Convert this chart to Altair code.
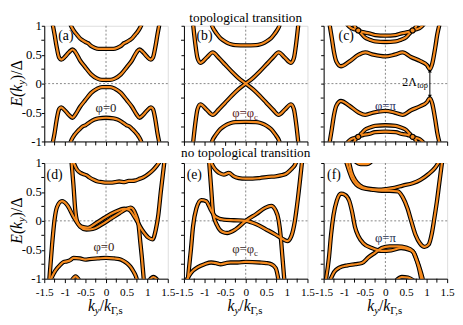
import altair as alt
import pandas as pd

FONT = "Liberation Serif, Times New Roman, serif"
ORANGE = "#f68b1f"
ZERO = "#666666"
W, H = 126, 118

X_MAJOR = [-1.5, -1.0, -0.5, 0.0, 0.5, 1.0, 1.5]
X_MINOR = [-1.25, -0.75, -0.25, 0.25, 0.75, 1.25]
Y_MAJOR = [-1.0, -0.5, 0.0, 0.5, 1.0]
Y_MINOR = [-0.75, -0.25, 0.25, 0.75]

# ---------------- panel (a) : phi = 0, gapped ----------------
a_in_k = [-1.30, -1.25, -1.20, -1.14, -1.09, -0.99, -0.89, -0.81, -0.75, -0.63, -0.51, -0.36, -0.22, -0.10, 0.0,
          0.10, 0.22, 0.36, 0.51, 0.63, 0.75, 0.81, 0.89, 0.99, 1.09, 1.14, 1.20, 1.25, 1.30]
a_up_in_E = [1.04, 0.85, 0.64, 0.45, 0.415, 0.47, 0.55, 0.59, 0.55, 0.40, 0.29, 0.16, 0.09, 0.065, 0.065,
             0.065, 0.09, 0.16, 0.29, 0.40, 0.55, 0.59, 0.55, 0.47, 0.415, 0.45, 0.64, 0.85, 1.04]
a_lo_in_E = [-1.04, -0.86, -0.63, -0.44, -0.41, -0.47, -0.55, -0.59, -0.54, -0.40, -0.29, -0.16, -0.09, -0.06, -0.06,
             -0.06, -0.09, -0.16, -0.29, -0.40, -0.54, -0.59, -0.55, -0.47, -0.41, -0.44, -0.63, -0.86, -1.04]
a_out_k = [-0.88, -0.83, -0.77, -0.70, -0.63, -0.57, -0.50, -0.44, -0.38, -0.28, -0.18, 0.0,
           0.18, 0.28, 0.38, 0.44, 0.50, 0.57, 0.63, 0.70, 0.77, 0.83, 0.88]
a_up_out_E = [1.05, 0.97, 0.90, 0.84, 0.78, 0.75, 0.72, 0.70, 0.66, 0.62, 0.60, 0.60,
              0.60, 0.62, 0.66, 0.70, 0.72, 0.75, 0.78, 0.84, 0.90, 0.97, 1.05]
a_lo_out_E = [-1.05, -0.96, -0.89, -0.83, -0.78, -0.74, -0.72, -0.69, -0.66, -0.62, -0.60, -0.59,
              -0.60, -0.62, -0.66, -0.69, -0.72, -0.74, -0.78, -0.83, -0.89, -0.96, -1.05]

# ---------------- panel (b) : phi = phi_c, gap closes ----------------
b_x_k = [-1.28, -1.23, -1.17, -1.10, -0.95, -0.80, -0.66, -0.50, -0.34, -0.18, 0.0,
         0.18, 0.34, 0.50, 0.66, 0.80, 0.95, 1.10, 1.17, 1.23, 1.28]
b_x1_E = [1.04, 0.72, 0.44, 0.36, 0.45, 0.54, 0.45, 0.33, 0.21, 0.10, 0.0,
          -0.10, -0.21, -0.33, -0.45, -0.54, -0.45, -0.36, -0.44, -0.72, -1.04]
b_x2_E = [-1.04, -0.72, -0.44, -0.36, -0.45, -0.54, -0.45, -0.33, -0.21, -0.10, 0.0,
          0.10, 0.21, 0.33, 0.45, 0.54, 0.45, 0.36, 0.44, 0.72, 1.04]
b_out_k = [-0.84, -0.80, -0.75, -0.69, -0.62, -0.55, -0.46, -0.36, -0.25, 0.0,
           0.25, 0.36, 0.46, 0.55, 0.62, 0.69, 0.75, 0.80, 0.84]
b_up_out_E = [1.05, 0.97, 0.91, 0.85, 0.79, 0.75, 0.71, 0.68, 0.665, 0.66,
              0.665, 0.68, 0.71, 0.75, 0.79, 0.85, 0.91, 0.97, 1.05]
b_lo_out_E = [-1.05, -0.97, -0.91, -0.85, -0.79, -0.75, -0.71, -0.68, -0.665, -0.66,
              -0.665, -0.68, -0.71, -0.75, -0.79, -0.85, -0.91, -0.97, -1.05]

# ---------------- panel (c) : phi = pi, reopened gap ----------------
c_in_k = [-1.36, -1.30, -1.25, -1.19, -1.08, -0.88, -0.65, -0.49, -0.29, 0.0,
          0.22, 0.42, 0.62, 0.85, 1.01, 1.08, 1.14, 1.21, 1.26, 1.32]
c_up_in_E = [1.04, 0.78, 0.55, 0.38, 0.30, 0.38, 0.50, 0.54, 0.50, 0.47,
             0.50, 0.54, 0.46, 0.39, 0.32, 0.25, 0.35, 0.62, 0.85, 1.04]
c_lo_in_E = [-1.04, -0.78, -0.55, -0.38, -0.30, -0.38, -0.50, -0.54, -0.50, -0.47,
             -0.50, -0.54, -0.46, -0.39, -0.32, -0.25, -0.35, -0.62, -0.85, -1.04]
c_outA_k = [-0.78, -0.72, -0.66, -0.55, -0.40, -0.25, 0.0, 0.25, 0.40, 0.55, 0.66, 0.72, 0.78]
c_up_outA_E = [1.04, 0.96, 0.92, 0.89, 0.87, 0.84, 0.83, 0.84, 0.87, 0.89, 0.92, 0.96, 1.04]
c_lo_outA_E = [-1.04, -0.96, -0.92, -0.89, -0.87, -0.84, -0.83, -0.84, -0.87, -0.89, -0.92, -0.96, -1.04]
c_outB_k = [-0.95, -0.85, -0.75, -0.66, -0.58, -0.50, -0.38, -0.25, 0.0,
            0.25, 0.38, 0.50, 0.58, 0.66, 0.75, 0.85, 0.95]
c_up_outB_E = [1.04, 0.97, 0.94, 0.92, 0.86, 0.80, 0.76, 0.73, 0.72,
               0.73, 0.76, 0.80, 0.86, 0.92, 0.94, 0.97, 1.04]
c_lo_outB_E = [-1.04, -0.97, -0.94, -0.92, -0.86, -0.80, -0.76, -0.73, -0.72,
               -0.73, -0.76, -0.80, -0.86, -0.92, -0.94, -0.97, -1.04]
c_dot_k = [-0.66, 0.66, -0.66, 0.66]
c_dot_E = [0.92, 0.92, -0.92, -0.92]
c_gap_k = [1.08]
c_gap_top = [0.22]
c_gap_bot = [-0.22]

# ---------------- panel (d) : phi = 0, no transition ----------------
d_up_k = [-0.80, -0.71, -0.62, -0.56, -0.48, -0.40, -0.30, -0.20, -0.10, 0.0, 0.12, 0.22,
          0.32, 0.45, 0.55, 0.63, 0.72, 0.79, 0.90, 1.03, 1.13, 1.23, 1.31]
d_up_E = [1.03, 0.89, 0.83, 0.81, 0.79, 0.75, 0.71, 0.68, 0.67, 0.66, 0.66, 0.67,
          0.68, 0.67, 0.69, 0.69, 0.70, 0.72, 0.75, 0.81, 0.87, 0.95, 1.03]
d_P_k = [-1.38, -1.31, -1.25, -1.19, -1.07, -0.94, -0.79, -0.63, -0.48, -0.32, -0.12, 0.08,
         0.32, 0.48, 0.60, 0.71, 0.79, 0.83, 0.87, 0.92]
d_P_E = [-1.04, -0.41, 0.02, 0.24, 0.34, 0.27, 0.07, -0.10, -0.15, -0.14, -0.07, 0.02,
         0.13, 0.20, 0.23, 0.13, -0.07, -0.35, -0.63, -1.04]
d_Q_k = [-0.84, -0.79, -0.75, -0.70, -0.60, -0.44, -0.24, 0.0, 0.24, 0.44, 0.56, 0.71,
         0.87, 1.03, 1.13, 1.21, 1.27, 1.33, 1.42]
d_Q_E = [1.04, 0.61, 0.21, -0.01, -0.10, -0.12, -0.04, 0.07, 0.16, 0.21, 0.19, 0.05,
         -0.15, -0.29, -0.32, -0.15, 0.10, 0.50, 1.04]
d_lo_k = [-1.36, -1.23, -1.11, -1.03, -0.95, -0.87, -0.79, -0.63, -0.50, -0.40, -0.20, 0.0,
          0.20, 0.32, 0.42, 0.52, 0.60, 0.67, 0.72, 0.76]
d_lo_E = [-1.04, -0.86, -0.76, -0.71, -0.70, -0.68, -0.64, -0.65, -0.67, -0.66, -0.65, -0.64,
          -0.65, -0.66, -0.69, -0.74, -0.80, -0.88, -0.95, -1.04]
d_bit1_k = [-0.84, -0.74, -0.64]
d_bit1_E = [-1.04, -0.96, -1.04]
d_bit2_k = [1.04, 1.15, 1.27]
d_bit2_E = [-1.04, -0.97, -1.04]

# ---------------- panel (e) : phi = phi_c, no transition ----------------
e_up_k = [-0.86, -0.78, -0.70, -0.62, -0.53, -0.41, -0.29, -0.17, 0.0, 0.17, 0.34, 0.55,
          0.73, 0.88, 0.97, 1.06, 1.13, 1.19, 1.24]
e_up_E = [1.04, 0.93, 0.86, 0.82, 0.80, 0.83, 0.77, 0.74, 0.73, 0.73, 0.74, 0.76,
          0.77, 0.79, 0.81, 0.86, 0.91, 0.96, 1.04]
e_P_k = [-1.41, -1.33, -1.28, -1.20, -1.08, -0.96, -0.84, -0.73, -0.53, -0.29, 0.0, 0.26,
         0.50, 0.73, 0.89, 1.01, 1.11, 1.19, 1.27, 1.37]
e_P_E = [-1.04, -0.49, -0.10, 0.21, 0.36, 0.34, 0.18, 0.07, 0.02, 0.01, 0.0, -0.06,
         -0.15, -0.24, -0.31, -0.35, -0.26, -0.02, 0.40, 1.04]
e_Q_k = [-0.89, -0.84, -0.79, -0.70, -0.57, -0.45, -0.25, 0.0, 0.26, 0.46, 0.62, 0.72,
         0.80, 0.85, 0.89, 0.94]
e_Q_E = [1.04, 0.57, 0.12, -0.07, -0.19, -0.21, -0.15, 0.0, 0.12, 0.22, 0.26, 0.19,
         0.01, -0.27, -0.61, -1.04]
e_lo_k = [-1.45, -1.32, -1.16, -1.00, -0.84, -0.72, -0.61, -0.48, -0.37, -0.20, 0.0, 0.34,
          0.50, 0.62, 0.73, 0.80]
e_lo_E = [-1.04, -0.89, -0.80, -0.75, -0.72, -0.73, -0.75, -0.73, -0.72, -0.72, -0.71, -0.72,
          -0.73, -0.75, -0.82, -1.04]

# ---------------- panel (f) : phi = pi, no transition ----------------
f_H_k = [-1.45, -1.37, -1.32, -1.26, -1.18, -1.08, -0.98, -0.88, -0.81, -0.74, -0.66, -0.53,
         -0.33, -0.09, 0.14, 0.38, 0.58, 0.69, 0.77, 0.85, 0.92]
f_H_E = [-1.04, -0.63, -0.24, 0.10, 0.35, 0.47, 0.45, 0.35, 0.16, -0.10, -0.26, -0.39,
         -0.47, -0.52, -0.51, -0.47, -0.50, -0.55, -0.69, -0.86, -1.04]
f_L_k = [-1.35, -1.24, -1.12, -0.92, -0.73, -0.57, -0.41, -0.25, -0.09, 0.10, 0.30, 0.50,
         0.66, 0.73, 0.81, 0.88]
f_L_E = [-1.04, -0.88, -0.81, -0.77, -0.75, -0.73, -0.63, -0.55, -0.47, -0.44, -0.44, -0.46,
         -0.52, -0.63, -0.80, -1.04]
f_U1_k = [-0.96, -0.88, -0.81, -0.71, -0.57, -0.33, -0.09, 0.10, 0.30, 0.42, 0.54, 0.63,
          0.73, 0.84, 0.95, 1.05, 1.13, 1.19, 1.25, 1.31, 1.38]
f_U1_E = [1.04, 0.86, 0.73, 0.63, 0.57, 0.54, 0.52, 0.52, 0.51, 0.41, 0.21, -0.01,
          -0.24, -0.39, -0.45, -0.41, -0.21, 0.05, 0.33, 0.66, 1.04]
f_U2_k = [-0.89, -0.82, -0.74, -0.63, -0.45, -0.17, 0.02, 0.22, 0.42, 0.66, 0.85, 1.05, 1.21, 1.32]
f_U2_E = [1.04, 0.83, 0.71, 0.62, 0.56, 0.54, 0.55, 0.57, 0.61, 0.65, 0.71, 0.81, 0.92, 1.04]
f_top_k = [-0.75, -0.60, -0.45, -0.32]
f_top_E = [1.04, 0.98, 0.98, 1.04]
f_bot_k = [0.25, 0.40, 0.55, 0.70]
f_bot_E = [-1.04, -0.97, -0.98, -1.04]

# phase labels (k, E, text, subscript, colour)
phi_labels = {
    "a": (0.0, -0.43, "φ=0", "", "#1a1a1a"),
    "b": (0.0, -0.51, "φ=φ", "c", "#5c1c1c"),
    "c": (0.0, -0.38, "φ=π", "", "#1f2f5f"),
    "d": (-0.05, -0.46, "φ=0", "", "#3b1a10"),
    "e": (0.0, -0.49, "φ=φ", "c", "#3a2a2a"),
    "f": (0.0, -0.29, "φ=π", "", "#223050"),
}

LABEL_EXPR = "'' + datum.value"
XSCALE = alt.Scale(domain=[-1.5, 1.5], nice=False, zero=False)
YSCALE = alt.Scale(domain=[-1, 1], nice=False, zero=False)


def x_enc(show):
    common = dict(values=X_MAJOR, grid=False, tickSize=4, tickColor="black", tickWidth=1,
                  domainColor="black", domainWidth=1)
    if show:
        ax = alt.Axis(labelExpr=LABEL_EXPR, labelFont=FONT, labelFontSize=11.5, labelColor="black",
                      labelPadding=4, labelFlush=False, labelOverlap=False, **common)
    else:
        ax = alt.Axis(labels=False, **common)
    return alt.X("k:Q", title="", scale=XSCALE, axis=ax)


def y_enc(show):
    common = dict(values=Y_MAJOR, grid=False, tickSize=3, tickColor="black", tickWidth=1,
                  domainColor="black", domainWidth=1)
    if show:
        ax = alt.Axis(labelExpr=LABEL_EXPR, labelFont=FONT, labelFontSize=13, labelColor="black",
                      labelPadding=0, labelFlush=False, labelOverlap=False, **common)
    else:
        ax = alt.Axis(labels=False, **common)
    return alt.Y("E:Q", title="", scale=YSCALE, axis=ax)


def bands_df(bands):
    rows = []
    for name, (ks, es) in bands.items():
        for k, e in zip(ks, es):
            rows.append({"band": name, "k": k, "E": e})
    return pd.DataFrame(rows)


def ptext(text, x, y, size=13, style="normal", align="left", baseline="alphabetic", angle=0, color="black"):
    return alt.Chart(pd.DataFrame({"t": [0]})).mark_text(
        text=text, font=FONT, fontSize=size, fontStyle=style, align=align, baseline=baseline,
        angle=angle, color=color).encode(x=alt.value(x), y=alt.value(y))


def y_title():
    y0 = H / 2 + 23.3
    x0 = -23
    return [
        ptext("E(k", x0, y0, size=16, style="italic", angle=270),
        ptext("y", x0 + 3.5, y0 - 22.2, size=11, style="italic", angle=270),
        ptext(")/Δ", x0, y0 - 27.1, size=16, angle=270),
    ]


def x_title():
    x0 = W / 2 - 18.5
    yb = H + 33
    return [
        ptext("k", x0, yb, size=16, style="italic"),
        ptext("y", x0 + 7.1, yb + 3.5, size=11, style="italic"),
        ptext("/", x0 + 12.0, yb, size=16),
        ptext("k", x0 + 16.4, yb, size=16, style="italic"),
        ptext("Γ,s", x0 + 23.5, yb + 3.5, size=11),
    ]


def make_panel(key, bands, letter, lx, ly, show_x, show_y, extras=None, top_title=None, top_dy=-4):
    ex, ey = x_enc(show_x), y_enc(show_y)
    df = bands_df(bands)
    layers = [
        alt.Chart(pd.DataFrame({"k": [0.0]})).mark_rule(color=ZERO, strokeDash=[2, 2], strokeWidth=0.8).encode(x=ex),
        alt.Chart(pd.DataFrame({"E": [0.0]})).mark_rule(color=ZERO, strokeDash=[2, 2], strokeWidth=0.8).encode(y=ey),
        # minor ticks every 0.25
        alt.Chart(pd.DataFrame({"k": X_MINOR})).mark_rule(color="black", strokeWidth=1).encode(
            x=ex, y=alt.value(H), y2=alt.value(H + 4)),
        alt.Chart(pd.DataFrame({"E": Y_MINOR})).mark_rule(color="black", strokeWidth=1).encode(
            y=ey, x=alt.value(0), x2=alt.value(-3)),
        alt.Chart(df).mark_line(color="black", strokeWidth=4.4, clip=True, interpolate="monotone",
                                strokeCap="round", strokeJoin="round").encode(x=ex, y=ey, detail="band:N"),
        alt.Chart(df).mark_line(color=ORANGE, strokeWidth=2.2, clip=True, interpolate="monotone",
                                strokeCap="round", strokeJoin="round").encode(x=ex, y=ey, detail="band:N"),
    ]
    if extras:
        layers += extras(ex, ey)
    pk, pE, main, sub, col = phi_labels[key]
    pdf = pd.DataFrame({"k": [pk], "E": [pE]})
    if sub:
        layers.append(alt.Chart(pdf).mark_text(text=main, font=FONT, fontSize=13, color=col, align="right",
                                               baseline="middle", dx=8.5).encode(x=ex, y=ey))
        layers.append(alt.Chart(pdf).mark_text(text=sub, font=FONT, fontSize=9, color=col, align="left",
                                               baseline="middle", dx=8.5, dy=4).encode(x=ex, y=ey))
    else:
        layers.append(alt.Chart(pdf).mark_text(text=main, font=FONT, fontSize=13, color=col, align="center",
                                               baseline="middle").encode(x=ex, y=ey))
    layers.append(ptext(letter, lx, ly, size=14, align="center", baseline="middle"))
    if show_y:
        layers += y_title()
    if show_x:
        layers += x_title()
    if top_title:
        layers.append(ptext(top_title, W / 2, top_dy, size=13.5, align="center"))
    return alt.layer(*layers).properties(width=W, height=H)


def c_extras(ex, ey):
    dots = pd.DataFrame({"k": c_dot_k, "E": c_dot_E})
    gap = pd.DataFrame({"k": c_gap_k, "E": c_gap_top, "E2": c_gap_bot})
    tip_up = pd.DataFrame({"k": c_gap_k, "E": c_gap_top})
    tip_dn = pd.DataFrame({"k": c_gap_k, "E": c_gap_bot})
    lab = pd.DataFrame({"k": [0.76], "E": [-0.04]})
    return [
        alt.Chart(dots).mark_point(filled=True, color=ORANGE, stroke="black", strokeWidth=1.2, size=28,
                                   opacity=1).encode(x=ex, y=ey),
        alt.Chart(gap).mark_rule(color="black", strokeWidth=1).encode(x=ex, y=ey, y2="E2:Q"),
        alt.Chart(tip_up).mark_point(shape="triangle-up", filled=True, color="black", size=16,
                                     opacity=1).encode(x=ex, y=ey),
        alt.Chart(tip_dn).mark_point(shape="triangle-down", filled=True, color="black", size=16,
                                     opacity=1).encode(x=ex, y=ey),
        alt.Chart(lab).mark_text(text="2Λ", font=FONT, fontSize=12, color="black", align="right",
                                 baseline="alphabetic").encode(x=ex, y=ey),
        alt.Chart(lab).mark_text(text="top", font=FONT, fontSize=8.5, color="black", align="left",
                                 baseline="alphabetic", dy=2.5, dx=0.5).encode(x=ex, y=ey),
    ]


pa = make_panel("a", {
    "up_in": (a_in_k, a_up_in_E), "lo_in": (a_in_k, a_lo_in_E),
    "up_out": (a_out_k, a_up_out_E), "lo_out": (a_out_k, a_lo_out_E)},
    "(a)", 22, 10, False, True)
pb = make_panel("b", {
    "x1": (b_x_k, b_x1_E), "x2": (b_x_k, b_x2_E),
    "up_out": (b_out_k, b_up_out_E), "lo_out": (b_out_k, b_lo_out_E)},
    "(b)", 21, 10, False, False, top_title="topological transition", top_dy=-4)
pc = make_panel("c", {
    "up_in": (c_in_k, c_up_in_E), "lo_in": (c_in_k, c_lo_in_E),
    "up_a": (c_outA_k, c_up_outA_E), "lo_a": (c_outA_k, c_lo_outA_E),
    "up_b": (c_outB_k, c_up_outB_E), "lo_b": (c_outB_k, c_lo_outB_E)},
    "(c)", 23, 11, False, False, extras=c_extras)
pd_ = make_panel("d", {
    "up": (d_up_k, d_up_E), "P": (d_P_k, d_P_E), "Q": (d_Q_k, d_Q_E), "lo": (d_lo_k, d_lo_E),
    "bit1": (d_bit1_k, d_bit1_E), "bit2": (d_bit2_k, d_bit2_E)},
    "(d)", 10.5, 12, True, True)
pe = make_panel("e", {
    "up": (e_up_k, e_up_E), "P": (e_P_k, e_P_E), "Q": (e_Q_k, e_Q_E), "lo": (e_lo_k, e_lo_E)},
    "(e)", 10.5, 12, True, False, top_title="no topological transition", top_dy=-6)
pf = make_panel("f", {
    "H": (f_H_k, f_H_E), "L": (f_L_k, f_L_E), "U1": (f_U1_k, f_U1_E), "U2": (f_U2_k, f_U2_E),
    "top": (f_top_k, f_top_E), "bot": (f_bot_k, f_bot_E)},
    "(f)", 10.5, 12, True, False)

chart = alt.concat(pa, pb, pc, pd_, pe, pf, columns=3, spacing={"row": 22, "column": 16.5},
                   bounds="flush").properties(
    padding={"left": 0, "top": -1, "right": 0, "bottom": 0}
).configure_view(stroke="black", strokeWidth=1).configure(background="white")

chart.save("out.html", embed_options={"renderer": "svg", "actions": False})
